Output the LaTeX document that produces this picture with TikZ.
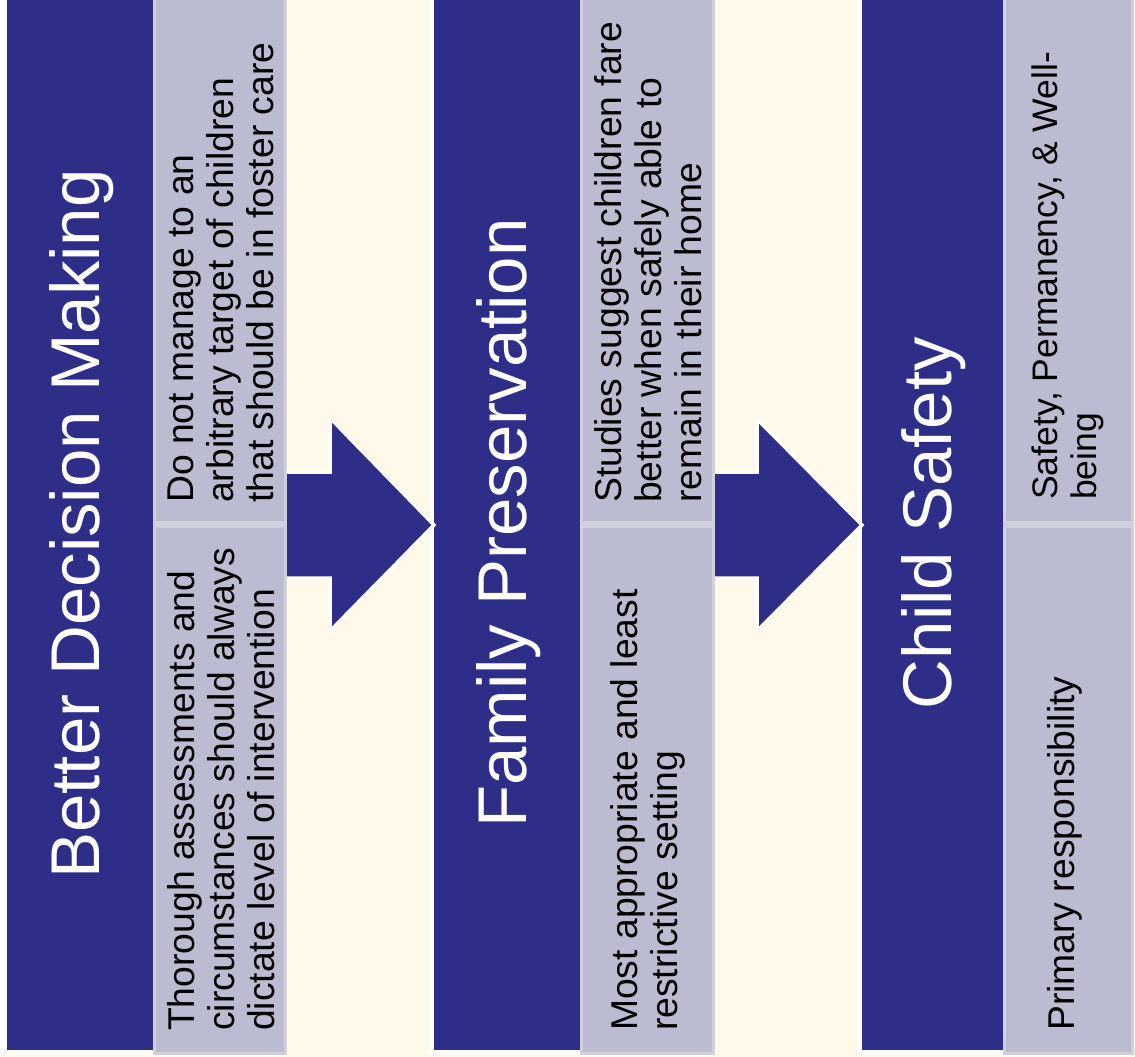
\documentclass[tikz,border=0pt]{standalone}
\usepackage{fontspec}
\setmainfont{Liberation Sans}
\definecolor{navy}{RGB}{46,46,136}
\definecolor{lilac}{RGB}{187,188,210}
\definecolor{lilacedge}{RGB}{208,208,222}
\definecolor{cream}{RGB}{255,249,234}
\begin{document}
\begin{tikzpicture}[x=1pt,y=-1pt,
 arrowshape/.style={fill=navy, draw=white, line width=3.5pt, line join=miter},
 greybox/.style={fill=lilac, draw=lilacedge, line width=3pt},
 title/.style={rotate=90, text=white, font=\fontsize{69}{80}\selectfont, inner sep=0pt},
 body/.style={rotate=90, text=black, font=\fontsize{37.3}{40}\selectfont, align=left, inner sep=0pt, anchor=west}]
\useasboundingbox (0,0) rectangle (1135,1057);
\fill[cream] (0,0) rectangle (1135,1057);
\begin{scope}
\clip (0,0) rectangle (1135,1057);
% blue columns with white rims
\fill[white] (0,-10) rectangle (158,1055);
\fill[navy] (7,-10) rectangle (153,1050);
\fill[white] (429,-10) rectangle (585,1055);
\fill[navy] (434,-10) rectangle (580,1050);
\fill[white] (857,-10) rectangle (1008,1055);
\fill[navy] (862,-10) rectangle (1003,1050);
% block arrows
\draw[arrowshape] (280,472) -- (330,472) -- (330,418) -- (434,525) -- (330,631) -- (330,578) -- (280,578) -- cycle;
\draw[arrowshape] (708,472) -- (757,472) -- (757,419) -- (862,525) -- (757,631) -- (757,578) -- (708,578) -- cycle;
% grey text boxes
\fill[lilacedge] (153,-10) rectangle (287,1055);
\draw[greybox] (154.5,-10) rectangle (285.5,522.5);
\draw[greybox] (154.5,526.5) rectangle (285.5,1053.5);
\fill[lilacedge] (580,-10) rectangle (715,1055);
\draw[greybox] (581.5,-10) rectangle (713.5,522.5);
\draw[greybox] (581.5,526.5) rectangle (713.5,1053.5);
\fill[lilacedge] (1003,-10) rectangle (1134,1055);
\draw[greybox] (1004.5,-10) rectangle (1132.5,522.5);
\draw[greybox] (1004.5,526.5) rectangle (1132.5,1053.5);
\end{scope}
% titles
\node[title] (h1) at (82,524) {Better Decision Making};
\node[title] (h2) at (509,523) {Family Preservation};
\node[title] (h3) at (934,523) {Child Safety};
% body texts
\node[body] (t1) at (221,503) {Do not manage to an\\arbitrary target of children\\that should be in foster care};
\node[body] (b1) at (221,1031) {Thorough assessments and\\circumstances should always\\dictate level of intervention};
\node[body] (t2) at (648,503) {Studies suggest children fare\\better when safely able to\\remain in their home};
\node[body] (b2) at (648,1031) {Most appropriate and least\\restrictive setting};
\node[body, font=\fontsize{35.5}{39}\selectfont] (t3) at (1068,500) {Safety, Permanency, \& Well-\\being};
\node[body] (b3) at (1065,1031) {Primary responsibility};
\end{tikzpicture}
\end{document}
